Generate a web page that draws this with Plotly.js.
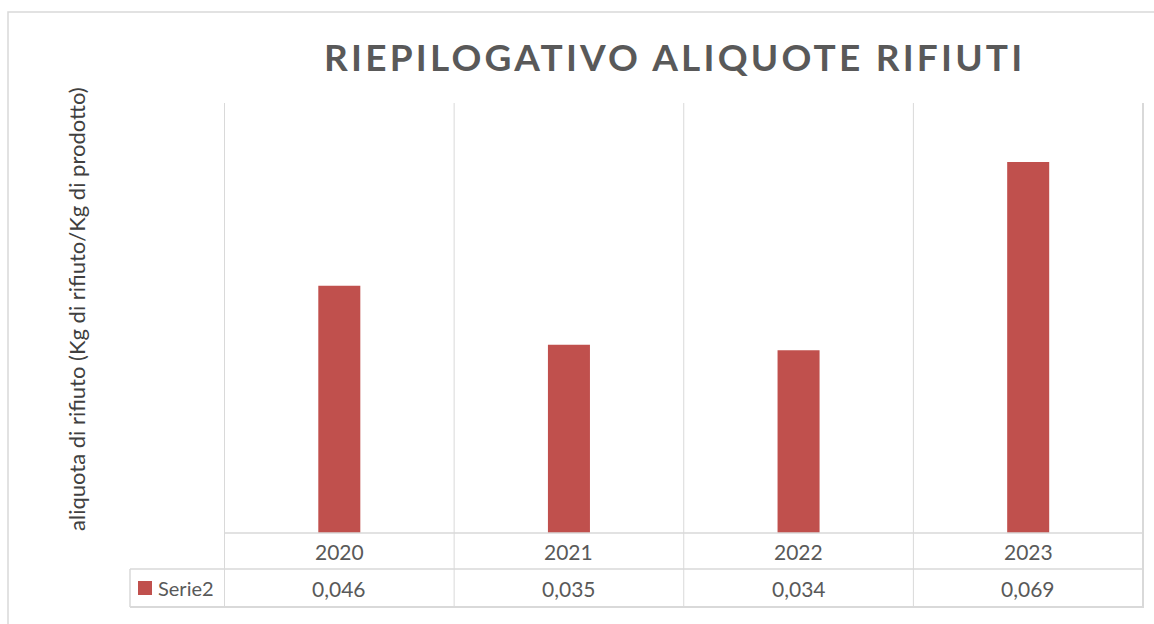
<!DOCTYPE html>
<html>
<head>
<meta charset="utf-8">
<script src="https://cdn.plot.ly/plotly-3.0.1.min.js"></script>
<style>
  html, body { margin: 0; padding: 0; background: #fff; }
  #chart { width: 1154px; height: 624px; }
</style>
</head>
<body>
<div id="chart"></div>
<script>
const categories = ['2020', '2021', '2022', '2023'];
const serie2 = [0.046, 0.035, 0.034, 0.069];
const valueLabels = ['0,046', '0,035', '0,034', '0,069'];
const seriesName = 'Serie2';
const chartTitle = 'RIEPILOGATIVO ALIQUOTE RIFIUTI';
const yTitle = 'aliquota di rifiuto (Kg di rifiuto/Kg di prodotto)';

const barColor = '#C0504D';
const lineColor = '#D9D9D9';
const textColor = '#595959';
const FONT = 'Lato, "Open Sans", sans-serif';

// pixel geometry helpers (plot: x 224..1144, y 103..533)
const plotH = 430, plotW = 920;
const py = p => (533 - p) / plotH;   // pixel y -> paper y
const px = p => (p - 224) / plotW;   // pixel x -> paper x

const shapes = [];
const n = categories.length;
// vertical gridlines / table column lines at category boundaries
for (let i = 0; i <= n; i++) {
  shapes.push({type: 'line', xref: 'x', yref: 'paper', x0: i - 0.5, x1: i - 0.5,
    y0: 1, y1: py(607), line: {color: lineColor, width: i === n ? 2 : 1}});
}
// horizontal table lines
shapes.push({type: 'line', xref: 'paper', yref: 'paper', x0: 0, x1: 1, y0: 0, y1: 0, line: {color: lineColor, width: 1.5}});
shapes.push({type: 'line', xref: 'paper', yref: 'paper', x0: px(130), x1: 1, y0: py(569), y1: py(569), line: {color: lineColor, width: 1.5}});
shapes.push({type: 'line', xref: 'paper', yref: 'paper', x0: px(130), x1: 1, y0: py(607), y1: py(607), line: {color: lineColor, width: 2}});
// legend cell left line
shapes.push({type: 'line', xref: 'paper', yref: 'paper', x0: px(130), x1: px(130), y0: py(569), y1: py(607), line: {color: lineColor, width: 1.5}});
// legend key square
shapes.push({type: 'rect', xref: 'paper', yref: 'paper', x0: px(138), x1: px(152), y0: py(595), y1: py(581), fillcolor: barColor, line: {width: 0}});
// outer chart border
shapes.push({type: 'rect', xref: 'paper', yref: 'paper', x0: px(8), x1: px(1170), y0: py(640), y1: py(12), line: {color: lineColor, width: 1.5}, fillcolor: 'rgba(0,0,0,0)'});

const annotations = [];
categories.forEach((c, i) => {
  annotations.push({x: i, xref: 'x', y: py(551), yref: 'paper', text: c, showarrow: false,
    xanchor: 'center', yanchor: 'middle', font: {family: FONT, size: 21, color: textColor}});
  annotations.push({x: i, xref: 'x', y: py(588), yref: 'paper', text: valueLabels[i], showarrow: false,
    xanchor: 'center', yanchor: 'middle', font: {family: FONT, size: 21, color: textColor}});
});
annotations.push({x: px(156), xref: 'paper', y: py(588), yref: 'paper', text: seriesName, showarrow: false,
  xanchor: 'left', yanchor: 'middle', font: {family: FONT, size: 20, color: textColor}});
annotations.push({x: px(76), xref: 'paper', y: py(309), yref: 'paper', text: yTitle, showarrow: false,
  textangle: -90, xanchor: 'center', yanchor: 'middle', font: {family: FONT, size: 22, color: '#404040'}});
annotations.push({x: px(674), xref: 'paper', y: py(57), yref: 'paper', text: '<b>' + chartTitle + '</b>', showarrow: false,
  xanchor: 'center', yanchor: 'middle', font: {family: FONT, size: 37, color: textColor}});

const data = [{
  type: 'bar', x: categories, y: serie2, name: seriesName,
  marker: {color: barColor}, hoverinfo: 'x+y'
}];

const layout = {
  width: 1154, height: 624,
  margin: {l: 224, r: 10, t: 103, b: 91, pad: 0},
  paper_bgcolor: '#fff', plot_bgcolor: '#fff',
  showlegend: false,
  bargap: 0.817,
  xaxis: {type: 'category', showgrid: false, zeroline: false, showticklabels: false, ticks: '', showline: false},
  yaxis: {range: [0, 0.08], showgrid: false, zeroline: false, showticklabels: false, ticks: '', showline: false},
  shapes: shapes,
  annotations: annotations
};

Plotly.newPlot('chart', data, layout, {displayModeBar: false, staticPlot: true}).then(() => {
  const texts = document.querySelectorAll('.annotation-text');
  texts.forEach(t => { if (t.textContent === chartTitle) t.style.letterSpacing = '3.2px'; });
});
</script>
</body>
</html>
